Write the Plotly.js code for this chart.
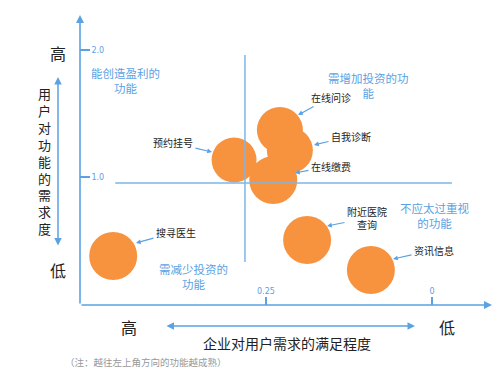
<!DOCTYPE html>
<html>
<head>
<meta charset="utf-8">
<script src="https://cdn.plot.ly/plotly-3.0.1.min.js"></script>
<style>
html,body{margin:0;padding:0;background:#fff;}
#chart{width:500px;height:377px;}
</style>
</head>
<body>
<div id="chart"></div>
<script>
// ---- data ----
var functions = ["搜寻医生", "附近医院查询", "资讯信息", "预约挂号", "在线问诊", "自我诊断", "在线缴费"];
var satisfaction = [0.480, 0.188, 0.092, 0.298, 0.229, 0.214, 0.239];   // x: 企业对用户需求的满足程度 (reversed)
var demand = [0.378, 0.504, 0.268, 1.134, 1.370, 1.210, 0.976];          // y: 用户对功能的需求度
var xTickVals = [0.25, 0];
var xTickText = ["0.25", "0"];
var yTickVals = [1, 2];
var yTickText = ["1.0", "2.0"];
var quadrantLabels = ["能创造盈利的<br>功能", "需增加投资的功<br>能", "需减少投资的<br>功能", "不应太过重视<br>的功能"];
var yTitleChars = ["用", "户", "对", "功", "能", "的", "需", "求", "度"];
var xTitle = "企业对用户需求的满足程度";
var note = "（注：越往左上角方向的功能越成熟）";

// ---- layout helpers ----
var ML = 80, MR = 8, MT = 15, MB = 72, W = 500, H = 377;
var PW = W - ML - MR, PH = H - MT - MB;
function px(x) { return (x - ML) / PW; }
function py(y) { return (H - MB - y) / PH; }
var CJK = '"Noto Sans CJK SC", "Microsoft YaHei", sans-serif';
var BLUE = '#5AA2E3';
var ORANGE = '#F7923F';

var annotations = [];

// axis lines with arrowheads
annotations.push({xref:'paper', yref:'paper', x:0, y:1, ax:0, ay:PH,
  showarrow:true, arrowhead:2, arrowsize:1, arrowwidth:1.6, arrowcolor:BLUE, text:''});
annotations.push({xref:'paper', yref:'paper', x:1, y:0, ax:-PW, ay:0,
  showarrow:true, arrowhead:2, arrowsize:1, arrowwidth:1.6, arrowcolor:BLUE, text:''});

// bubble labels with arrows: [tip-x tip-y offset-x offset-y]
var labelPos = [
  [136, 243, 40, -11],
  [327, 226, 40, -8],
  [393, 259, 41, -9],
  [212, 152, -39, -9],
  [298, 115, 33, -18],
  [314, 145, 37, -9],
  [295, 173, 36, -7]
];
var labelText = ["搜寻医生", "附近医院<br>查询", "资讯信息", "预约挂号", "在线问诊", "自我诊断", "在线缴费"];
for (var i = 0; i < labelPos.length; i++) {
  var p = labelPos[i];
  annotations.push({xref:'paper', yref:'paper', x:px(p[0]), y:py(p[1]), ax:p[2], ay:p[3],
    text:labelText[i], showarrow:true, arrowhead:2, arrowsize:0.8, arrowwidth:1.2, arrowcolor:BLUE,
    font:{family:CJK, size:10, color:'#222'}, standoff:0, startstandoff:1});
}

// quadrant labels
var quadPos = [[125, 80], [368, 85], [193, 276], [434, 216]];
for (var q = 0; q < quadrantLabels.length; q++) {
  annotations.push({xref:'paper', yref:'paper', x:px(quadPos[q][0]), y:py(quadPos[q][1]),
    text:quadrantLabels[q], showarrow:false, font:{family:CJK, size:11.5, color:BLUE},
    xanchor:'center', yanchor:'middle'});
}

// y title: stacked vertical characters
annotations.push({xref:'paper', yref:'paper', x:px(44), y:py(161), text:yTitleChars.join('<br>'),
  showarrow:false, font:{family:CJK, size:13, color:'#222'}, xanchor:'center', yanchor:'middle'});
// y title high / low and double arrow
annotations.push({xref:'paper', yref:'paper', x:px(58), y:py(53), text:'高', showarrow:false,
  font:{family:CJK, size:16, color:'#222'}, xanchor:'center', yanchor:'middle'});
annotations.push({xref:'paper', yref:'paper', x:px(58), y:py(270), text:'低', showarrow:false,
  font:{family:CJK, size:16, color:'#222'}, xanchor:'center', yanchor:'middle'});
annotations.push({xref:'paper', yref:'paper', x:px(58), y:py(77), ax:0, ay:170, text:'',
  showarrow:true, arrowside:'end+start', arrowhead:2, startarrowhead:2, arrowsize:1, startarrowsize:1,
  arrowwidth:1.5, arrowcolor:BLUE});

// x title
annotations.push({xref:'paper', yref:'paper', x:px(129), y:py(327), text:'高', showarrow:false,
  font:{family:CJK, size:16, color:'#222'}, xanchor:'center', yanchor:'middle'});
annotations.push({xref:'paper', yref:'paper', x:px(447), y:py(327), text:'低', showarrow:false,
  font:{family:CJK, size:16, color:'#222'}, xanchor:'center', yanchor:'middle'});
annotations.push({xref:'paper', yref:'paper', x:px(415), y:py(326), ax:-250, ay:0, text:'',
  showarrow:true, arrowside:'end+start', arrowhead:2, startarrowhead:2, arrowsize:1, startarrowsize:1,
  arrowwidth:1.5, arrowcolor:BLUE});
annotations.push({xref:'paper', yref:'paper', x:px(287), y:py(343), text:xTitle, showarrow:false,
  font:{family:CJK, size:14, color:'#222'}, xanchor:'center', yanchor:'middle'});
annotations.push({xref:'paper', yref:'paper', x:px(146), y:py(362), text:note, showarrow:false,
  font:{family:CJK, size:9.5, color:'#999'}, xanchor:'center', yanchor:'middle'});

var shapes = [
  // vertical divider
  {type:'line', xref:'x', yref:'y', x0:0.2816, x1:0.2816, y0:0.33, y1:1.96, line:{color:'#7DB6E8', width:1.5}},
  // horizontal divider
  {type:'line', xref:'x', yref:'y', x0:0.477, x1:-0.030, y0:0.953, y1:0.953, line:{color:'#7DB6E8', width:1.5}}
];

var trace = {
  type:'scatter', mode:'markers',
  x: satisfaction, y: demand, text: functions,
  marker:{size:[48, 48, 48, 45, 46, 46, 48], color:ORANGE, opacity:1, line:{width:0}},
  hoverinfo:'text', cliponaxis:false
};

var layout = {
  width:W, height:H,
  margin:{l:ML, r:MR, t:MT, b:MB, pad:0},
  paper_bgcolor:'#fff', plot_bgcolor:'#fff',
  showlegend:false,
  xaxis:{range:[0.530, -0.0904], showgrid:false, zeroline:false, showline:false,
    tickvals:xTickVals, ticktext:xTickText, ticks:'inside', ticklen:8, tickwidth:1.2, tickcolor:BLUE,
    ticklabelposition:'inside', tickfont:{family:'DejaVu Sans, sans-serif', size:8, color:BLUE}, fixedrange:true},
  yaxis:{range:[-0.008, 2.276], showgrid:false, zeroline:false, showline:false,
    tickvals:yTickVals, ticktext:yTickText, ticks:'inside', ticklen:10, tickwidth:1.2, tickcolor:BLUE,
    ticklabelposition:'inside', tickfont:{family:'DejaVu Sans, sans-serif', size:8, color:BLUE}, fixedrange:true},
  annotations:annotations,
  shapes:shapes
};

Plotly.newPlot('chart', [trace], layout, {displayModeBar:false, staticPlot:true});
</script>
</body>
</html>
